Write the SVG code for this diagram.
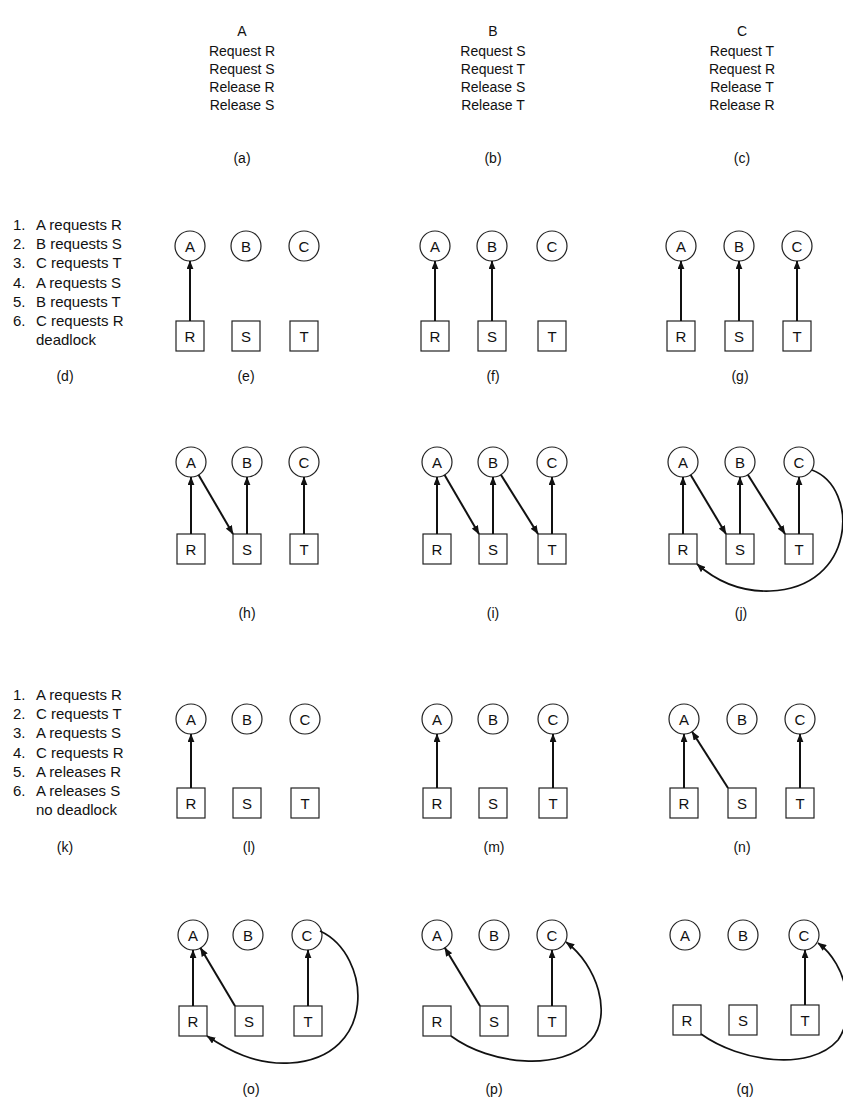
<svg xmlns="http://www.w3.org/2000/svg" width="843" height="1099" viewBox="0 0 843 1099">
<style>
text{font-family:"Liberation Sans",Arial,sans-serif;fill:#111}
.t{font-size:14px;text-anchor:middle}
.l{font-size:15px}
.lab{font-size:14px;text-anchor:middle}
.n text{font-size:15px;text-anchor:middle}
.n circle,.n rect{fill:#fff;stroke:#222;stroke-width:1.2}
.e path{fill:none;stroke:#111;stroke-width:2;marker-end:url(#ah)}
.e path.c{stroke-width:1.7}
</style>
<defs>
<marker id="ah" viewBox="0 0 10 8" refX="9.5" refY="4" markerWidth="9" markerHeight="7" markerUnits="userSpaceOnUse" orient="auto"><path d="M0,0 L10,4 L0,8 z" fill="#111"/></marker>
</defs>
<rect width="843" height="1099" fill="#fff"/>

<g id="programs">
<text class="t" x="242" y="36">A</text>
<text class="t" x="242" y="56">Request R</text>
<text class="t" x="242" y="74">Request S</text>
<text class="t" x="242" y="92">Release R</text>
<text class="t" x="242" y="110">Release S</text>
<text class="lab" x="242" y="163">(a)</text>
<text class="t" x="493" y="36">B</text>
<text class="t" x="493" y="56">Request S</text>
<text class="t" x="493" y="74">Request T</text>
<text class="t" x="493" y="92">Release S</text>
<text class="t" x="493" y="110">Release T</text>
<text class="lab" x="493" y="163">(b)</text>
<text class="t" x="742" y="36">C</text>
<text class="t" x="742" y="56">Request T</text>
<text class="t" x="742" y="74">Request R</text>
<text class="t" x="742" y="92">Release T</text>
<text class="t" x="742" y="110">Release R</text>
<text class="lab" x="742" y="163">(c)</text>
</g>

<g id="list-d">
<text class="l" x="13" y="230">1.</text><text class="l" x="36" y="230">A requests R</text>
<text class="l" x="13" y="249">2.</text><text class="l" x="36" y="249">B requests S</text>
<text class="l" x="13" y="268">3.</text><text class="l" x="36" y="268">C requests T</text>
<text class="l" x="13" y="288">4.</text><text class="l" x="36" y="288">A requests S</text>
<text class="l" x="13" y="307">5.</text><text class="l" x="36" y="307">B requests T</text>
<text class="l" x="13" y="326">6.</text><text class="l" x="36" y="326">C requests R</text>
<text class="l" x="36" y="345">deadlock</text>
<text class="lab" x="65" y="381">(d)</text>
</g>

<g id="list-k">
<text class="l" x="13" y="700">1.</text><text class="l" x="36" y="700">A requests R</text>
<text class="l" x="13" y="719">2.</text><text class="l" x="36" y="719">C requests T</text>
<text class="l" x="13" y="738">3.</text><text class="l" x="36" y="738">A requests S</text>
<text class="l" x="13" y="758">4.</text><text class="l" x="36" y="758">C requests R</text>
<text class="l" x="13" y="777">5.</text><text class="l" x="36" y="777">A releases R</text>
<text class="l" x="13" y="796">6.</text><text class="l" x="36" y="796">A releases S</text>
<text class="l" x="36" y="815">no deadlock</text>
<text class="lab" x="65" y="852">(k)</text>
</g>

<g id="labels">
<text class="lab" x="246" y="381">(e)</text>
<text class="lab" x="493" y="381">(f)</text>
<text class="lab" x="740" y="381">(g)</text>
<text class="lab" x="247" y="618">(h)</text>
<text class="lab" x="493" y="618">(i)</text>
<text class="lab" x="741" y="618">(j)</text>
<text class="lab" x="249" y="852">(l)</text>
<text class="lab" x="494" y="852">(m)</text>
<text class="lab" x="742" y="852">(n)</text>
<text class="lab" x="251" y="1094">(o)</text>
<text class="lab" x="494" y="1094">(p)</text>
<text class="lab" x="745" y="1094">(q)</text>
</g>

<!-- Panel e -->
<g id="e-A" class="n"><circle cx="190" cy="246" r="15"/><text x="190" y="251.5">A</text></g>
<g id="e-B" class="n"><circle cx="246" cy="246" r="15"/><text x="246" y="251.5">B</text></g>
<g id="e-C" class="n"><circle cx="304" cy="246" r="15"/><text x="304" y="251.5">C</text></g>
<g id="e-R" class="n"><rect x="176" y="321" width="28" height="30"/><text x="190" y="341.5">R</text></g>
<g id="e-S" class="n"><rect x="232" y="321" width="28" height="30"/><text x="246" y="341.5">S</text></g>
<g id="e-T" class="n"><rect x="290" y="321" width="28" height="30"/><text x="304" y="341.5">T</text></g>

<!-- Panel f -->
<g id="f-A" class="n"><circle cx="435" cy="246" r="15"/><text x="435" y="251.5">A</text></g>
<g id="f-B" class="n"><circle cx="492" cy="246" r="15"/><text x="492" y="251.5">B</text></g>
<g id="f-C" class="n"><circle cx="552" cy="246" r="15"/><text x="552" y="251.5">C</text></g>
<g id="f-R" class="n"><rect x="421" y="321" width="28" height="30"/><text x="435" y="341.5">R</text></g>
<g id="f-S" class="n"><rect x="478" y="321" width="28" height="30"/><text x="492" y="341.5">S</text></g>
<g id="f-T" class="n"><rect x="538" y="321" width="28" height="30"/><text x="552" y="341.5">T</text></g>

<!-- Panel g -->
<g id="g-A" class="n"><circle cx="681" cy="246" r="15"/><text x="681" y="251.5">A</text></g>
<g id="g-B" class="n"><circle cx="739" cy="246" r="15"/><text x="739" y="251.5">B</text></g>
<g id="g-C" class="n"><circle cx="797" cy="246" r="15"/><text x="797" y="251.5">C</text></g>
<g id="g-R" class="n"><rect x="667" y="321" width="28" height="30"/><text x="681" y="341.5">R</text></g>
<g id="g-S" class="n"><rect x="725" y="321" width="28" height="30"/><text x="739" y="341.5">S</text></g>
<g id="g-T" class="n"><rect x="783" y="321" width="28" height="30"/><text x="797" y="341.5">T</text></g>

<!-- Panel h -->
<g id="h-A" class="n"><circle cx="191" cy="462" r="15"/><text x="191" y="467.5">A</text></g>
<g id="h-B" class="n"><circle cx="247" cy="462" r="15"/><text x="247" y="467.5">B</text></g>
<g id="h-C" class="n"><circle cx="304" cy="462" r="15"/><text x="304" y="467.5">C</text></g>
<g id="h-R" class="n"><rect x="177" y="534" width="28" height="30"/><text x="191" y="554.5">R</text></g>
<g id="h-S" class="n"><rect x="233" y="534" width="28" height="30"/><text x="247" y="554.5">S</text></g>
<g id="h-T" class="n"><rect x="290" y="534" width="28" height="30"/><text x="304" y="554.5">T</text></g>

<!-- Panel i -->
<g id="i-A" class="n"><circle cx="437" cy="462" r="15"/><text x="437" y="467.5">A</text></g>
<g id="i-B" class="n"><circle cx="493" cy="462" r="15"/><text x="493" y="467.5">B</text></g>
<g id="i-C" class="n"><circle cx="552" cy="462" r="15"/><text x="552" y="467.5">C</text></g>
<g id="i-R" class="n"><rect x="423" y="534" width="28" height="30"/><text x="437" y="554.5">R</text></g>
<g id="i-S" class="n"><rect x="479" y="534" width="28" height="30"/><text x="493" y="554.5">S</text></g>
<g id="i-T" class="n"><rect x="538" y="534" width="28" height="30"/><text x="552" y="554.5">T</text></g>

<!-- Panel j -->
<g id="j-A" class="n"><circle cx="683" cy="462" r="15"/><text x="683" y="467.5">A</text></g>
<g id="j-B" class="n"><circle cx="740" cy="462" r="15"/><text x="740" y="467.5">B</text></g>
<g id="j-C" class="n"><circle cx="799" cy="462" r="15"/><text x="799" y="467.5">C</text></g>
<g id="j-R" class="n"><rect x="669" y="534" width="28" height="30"/><text x="683" y="554.5">R</text></g>
<g id="j-S" class="n"><rect x="726" y="534" width="28" height="30"/><text x="740" y="554.5">S</text></g>
<g id="j-T" class="n"><rect x="785" y="534" width="28" height="30"/><text x="799" y="554.5">T</text></g>

<!-- Panel l -->
<g id="l-A" class="n"><circle cx="191" cy="719" r="15"/><text x="191" y="724.5">A</text></g>
<g id="l-B" class="n"><circle cx="247" cy="719" r="15"/><text x="247" y="724.5">B</text></g>
<g id="l-C" class="n"><circle cx="305" cy="719" r="15"/><text x="305" y="724.5">C</text></g>
<g id="l-R" class="n"><rect x="177" y="788" width="28" height="30"/><text x="191" y="808.5">R</text></g>
<g id="l-S" class="n"><rect x="233" y="788" width="28" height="30"/><text x="247" y="808.5">S</text></g>
<g id="l-T" class="n"><rect x="291" y="788" width="28" height="30"/><text x="305" y="808.5">T</text></g>

<!-- Panel m -->
<g id="m-A" class="n"><circle cx="437" cy="719" r="15"/><text x="437" y="724.5">A</text></g>
<g id="m-B" class="n"><circle cx="493" cy="719" r="15"/><text x="493" y="724.5">B</text></g>
<g id="m-C" class="n"><circle cx="553" cy="719" r="15"/><text x="553" y="724.5">C</text></g>
<g id="m-R" class="n"><rect x="423" y="788" width="28" height="30"/><text x="437" y="808.5">R</text></g>
<g id="m-S" class="n"><rect x="479" y="788" width="28" height="30"/><text x="493" y="808.5">S</text></g>
<g id="m-T" class="n"><rect x="539" y="788" width="28" height="30"/><text x="553" y="808.5">T</text></g>

<!-- Panel n -->
<g id="n-A" class="n"><circle cx="684" cy="719" r="15"/><text x="684" y="724.5">A</text></g>
<g id="n-B" class="n"><circle cx="742" cy="719" r="15"/><text x="742" y="724.5">B</text></g>
<g id="n-C" class="n"><circle cx="800" cy="719" r="15"/><text x="800" y="724.5">C</text></g>
<g id="n-R" class="n"><rect x="670" y="788" width="28" height="30"/><text x="684" y="808.5">R</text></g>
<g id="n-S" class="n"><rect x="728" y="788" width="28" height="30"/><text x="742" y="808.5">S</text></g>
<g id="n-T" class="n"><rect x="786" y="788" width="28" height="30"/><text x="800" y="808.5">T</text></g>

<!-- Panel o -->
<g id="o-A" class="n"><circle cx="193" cy="935" r="15"/><text x="193" y="940.5">A</text></g>
<g id="o-B" class="n"><circle cx="248" cy="935" r="15"/><text x="248" y="940.5">B</text></g>
<g id="o-C" class="n"><circle cx="307" cy="935" r="15"/><text x="307" y="940.5">C</text></g>
<g id="o-R" class="n"><rect x="179" y="1006" width="28" height="30"/><text x="193" y="1026.5">R</text></g>
<g id="o-S" class="n"><rect x="235" y="1006" width="28" height="30"/><text x="249" y="1026.5">S</text></g>
<g id="o-T" class="n"><rect x="294" y="1006" width="28" height="30"/><text x="308" y="1026.5">T</text></g>

<!-- Panel p -->
<g id="p-A" class="n"><circle cx="437" cy="935" r="15"/><text x="437" y="940.5">A</text></g>
<g id="p-B" class="n"><circle cx="494" cy="935" r="15"/><text x="494" y="940.5">B</text></g>
<g id="p-C" class="n"><circle cx="552" cy="935" r="15"/><text x="552" y="940.5">C</text></g>
<g id="p-R" class="n"><rect x="423" y="1006" width="28" height="30"/><text x="437" y="1026.5">R</text></g>
<g id="p-S" class="n"><rect x="480" y="1006" width="28" height="30"/><text x="494" y="1026.5">S</text></g>
<g id="p-T" class="n"><rect x="538" y="1006" width="28" height="30"/><text x="552" y="1026.5">T</text></g>

<!-- Panel q -->
<g id="q-A" class="n"><circle cx="685" cy="935" r="15"/><text x="685" y="940.5">A</text></g>
<g id="q-B" class="n"><circle cx="743" cy="935" r="15"/><text x="743" y="940.5">B</text></g>
<g id="q-C" class="n"><circle cx="804" cy="935" r="15"/><text x="804" y="940.5">C</text></g>
<g id="q-R" class="n"><rect x="673" y="1005" width="28" height="30"/><text x="687" y="1025.5">R</text></g>
<g id="q-S" class="n"><rect x="729" y="1005" width="28" height="30"/><text x="743" y="1025.5">S</text></g>
<g id="q-T" class="n"><rect x="791" y="1005" width="28" height="30"/><text x="805" y="1025.5">T</text></g>

<g id="connectors" class="e">
<path d="M190,321 L190,261"/>
<path d="M435,321 L435,261"/>
<path d="M492,321 L492,261"/>
<path d="M681,321 L681,261"/>
<path d="M739,321 L739,261"/>
<path d="M797,321 L797,261"/>
<path d="M191,534 L191,477"/>
<path d="M247,534 L247,477"/>
<path d="M304,534 L304,477"/>
<path d="M198.6,474.9 L233,534"/>
<path d="M437,534 L437,477"/>
<path d="M493,534 L493,477"/>
<path d="M552,534 L552,477"/>
<path d="M444.6,474.9 L479,534"/>
<path d="M500.9,474.7 L538,534"/>
<path d="M683,534 L683,477"/>
<path d="M740,534 L740,477"/>
<path d="M799,534 L799,477"/>
<path d="M690.7,474.9 L726,534"/>
<path d="M747.9,474.7 L785,534"/>
<path class="c" d="M812,470 C860,488 856,588 770,591 C740,592 715,580 697,564"/>
<path d="M191,788 L191,734"/>
<path d="M437,788 L437,734"/>
<path d="M553,788 L553,734"/>
<path d="M684,788 L684,734"/>
<path d="M800,788 L800,734"/>
<path d="M728,788 L692.1,731.7"/>
<path d="M193,1006 L193,950"/>
<path d="M308,1006 L308,950"/>
<path d="M235,1006 L200.5,948"/>
<path class="c" d="M320,931 C372,955 378,1058 290,1063 C255,1065 228,1050 207,1036"/>
<path d="M480,1006 L444.8,947.8"/>
<path d="M552,1006 L552,950"/>
<path class="c" d="M451,1036 C490,1065 562,1072 591,1040 C613,1015 597,965 566,942"/>
<path d="M805,1005 L805,950"/>
<path class="c" d="M701,1034 C740,1062 810,1072 838,1040 C856,1015 848,965 818,943"/>
</g>
</svg>
